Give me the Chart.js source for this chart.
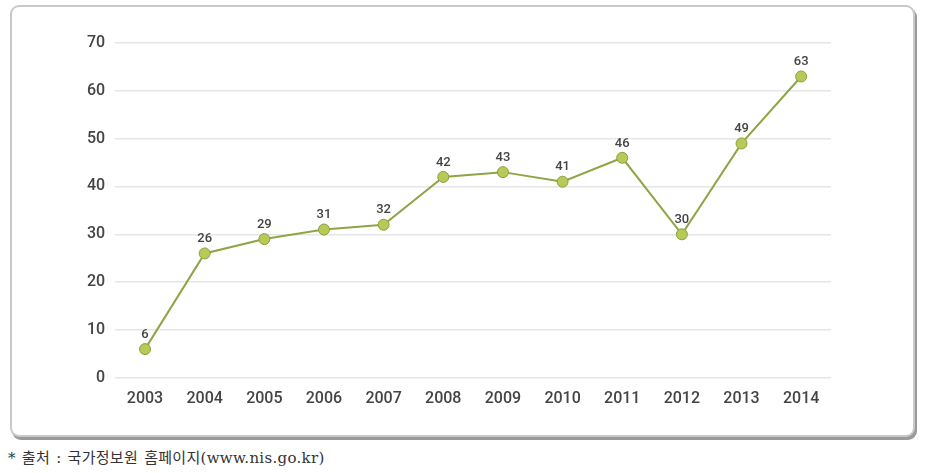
<!DOCTYPE html>
<html>
<head>
<meta charset="utf-8">
<script src="https://cdn.jsdelivr.net/npm/chart.js@4.4.1/dist/chart.umd.min.js"></script>
<style>
  html, body { margin: 0; padding: 0; background: #fff; }
  #page { position: relative; width: 932px; height: 473px; overflow: hidden; }
  #box {
    position: absolute; left: 10px; top: 5px; width: 901px; height: 428px;
    border: 2px solid #c9c9c9; border-radius: 9px;
    box-shadow: 2px 3px 0 #9a9a9a;
    background: #fff;
  }
  #wrap { position: absolute; left: 0; top: 0; width: 932px; height: 440px; }
  #note {
    position: absolute; left: 8px; top: 446px;
    font-family: "DejaVu Serif", "Noto Sans CJK KR", serif; font-size: 15px; color: #333;
    letter-spacing: 0.3px; word-spacing: 1px;
  }
</style>
</head>
<body>
<div id="page">
  <div id="box"></div>
  <div id="wrap"><canvas id="lineChart"></canvas></div>
  <div id="note">* 출처 : 국가정보원 홈페이지(www.nis.go.kr)</div>
</div>
<script>
const years = ['2003', '2004', '2005', '2006', '2007', '2008', '2009', '2010', '2011', '2012', '2013', '2014'];
const counts = [6, 26, 29, 31, 32, 42, 43, 41, 46, 30, 49, 63];
const yTicks = [0, 10, 20, 30, 40, 50, 60, 70];

const tickFont = { family: 'Roboto, "DejaVu Sans", sans-serif', size: 16, weight: '500' };

// numbers above each point
const pointLabels = {
    id: 'pointLabels',
    afterDatasetsDraw(chart) {
        const ctx = chart.ctx;
        const meta = chart.getDatasetMeta(0);
        ctx.save();
        ctx.font = '500 13px Roboto, "DejaVu Sans", sans-serif';
        ctx.fillStyle = '#444';
        ctx.textAlign = 'center';
        ctx.textBaseline = 'bottom';
        meta.data.forEach((pt, i) => {
            ctx.fillText(counts[i], pt.x, pt.y - 8);
        });
        ctx.restore();
    }
};

const ctx = document.getElementById('lineChart').getContext('2d');

new Chart(ctx, {
    type: 'line',
    data: {
        labels: years,
        datasets: [{
            data: counts,
            borderColor: '#8ea544',
            borderWidth: 2,
            pointRadius: 5.5,
            pointBackgroundColor: '#b7c957',
            pointBorderColor: '#8c9e3e',
            pointBorderWidth: 1,
            tension: 0
        }]
    },
    options: {
        responsive: true,
        maintainAspectRatio: false,
        animation: false,
        layout: { padding: { left: 77, right: 101, top: 43, bottom: 19 } },
        plugins: { legend: { display: false }, tooltip: { enabled: false } },
        scales: {
            x: {
                offset: true,
                grid: { display: false, drawTicks: false },
                border: { display: false },
                ticks: { padding: 12, color: '#444', font: tickFont }
            },
            y: {
                min: 0,
                max: 70,
                afterBuildTicks(scale) { scale.ticks = yTicks.map(v => ({ value: v })); },
                grid: { color: '#e6e6e6', lineWidth: 1.5, drawTicks: false },
                border: { display: false },
                ticks: { padding: 10, color: '#444', font: tickFont }
            }
        }
    },
    plugins: [pointLabels]
});
</script>
</body>
</html>
